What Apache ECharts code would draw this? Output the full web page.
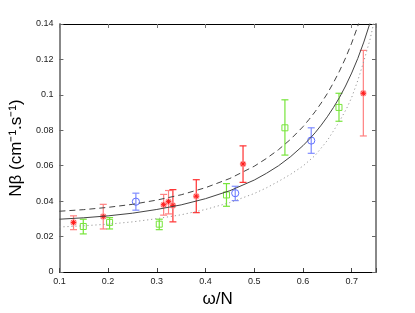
<!DOCTYPE html>
<html><head><meta charset="utf-8">
<script src="https://cdn.jsdelivr.net/npm/echarts@6/dist/echarts.min.js"></script>
<style>html,body{margin:0;padding:0;background:#fff}#c{width:415px;height:313px}</style>
</head><body><div id="c"></div>
<script>
// Model curves
const solidX = [0.10,0.15,0.20,0.25,0.30,0.35,0.40,0.45,0.50,0.525,0.55,0.575,0.60,0.6125,0.625,0.6375,0.65,0.6625,0.675,0.6875,0.70,0.7125,0.725,0.7375,0.75];
const solidY = [0.0298,0.0306,0.0317,0.0332,0.0353,0.0379,0.0414,0.0459,0.0519,0.0557,0.0600,0.0652,0.0713,0.0748,0.0786,0.0829,0.0876,0.0928,0.0985,0.1050,0.1123,0.1205,0.1298,0.1404,0.1526];
const dashX = [0.10,0.15,0.20,0.25,0.30,0.35,0.40,0.45,0.50,0.525,0.55,0.575,0.60,0.6125,0.625,0.6375,0.65,0.6625,0.675,0.6875,0.70,0.7125,0.725];
const dashY = [0.0343,0.0352,0.0365,0.0382,0.0406,0.0436,0.0476,0.0528,0.0597,0.0641,0.0691,0.0750,0.0820,0.0861,0.0905,0.0954,0.1007,0.1068,0.1134,0.1208,0.1292,0.1387,0.1494];
const dotX = [0.10,0.15,0.20,0.25,0.30,0.35,0.40,0.45,0.50,0.525,0.55,0.575,0.60,0.625,0.65,0.675,0.69,0.70,0.7125,0.725,0.7375,0.75];
const dotY = [0.0254,0.0261,0.0270,0.0283,0.0301,0.0323,0.0353,0.0392,0.0443,0.0475,0.0512,0.0552,0.0598,0.0658,0.0742,0.0850,0.0925,0.0985,0.1080,0.1190,0.1310,0.1460];

// Red star points with pale error bars
const redPaleX  = [0.129, 0.190, 0.314, 0.324, 0.724];
const redPaleY  = [0.0280, 0.0313, 0.0380, 0.0397, 0.1009];
const redPaleLo = [0.0239, 0.0243, 0.0321, 0.0328, 0.0768];
const redPaleHi = [0.0317, 0.0382, 0.0438, 0.0460, 0.1251];
// Red star points with strong error bars
const redX  = [0.333, 0.381, 0.477];
const redY  = [0.0376, 0.0428, 0.0610];
const redLo = [0.0283, 0.0335, 0.0506];
const redHi = [0.0465, 0.0521, 0.0712];
// Green squares
const greenX  = [0.149, 0.203, 0.305, 0.443, 0.563, 0.674];
const greenY  = [0.0257, 0.0280, 0.0270, 0.0435, 0.0814, 0.0929];
const greenLo = [0.0215, 0.0243, 0.0239, 0.0371, 0.0660, 0.0851];
const greenHi = [0.0298, 0.0307, 0.0298, 0.0499, 0.0972, 0.1009];
// Blue circles
const blueX  = [0.257, 0.461, 0.617];
const blueY  = [0.0397, 0.0445, 0.0742];
const blueLo = [0.0349, 0.0403, 0.0670];
const blueHi = [0.0445, 0.0484, 0.0814];

const FONT = "'Liberation Sans', Arial, sans-serif";
const zip = (xs, ys) => xs.map((x, i) => [x, ys[i]]);
const zip4 = (xs, ys, lo, hi) => xs.map((x, i) => [x, ys[i], lo[i], hi[i]]);

function errRender(kind, barColor, markColor) {
  return function (params, api) {
    const x = api.value(0), y = api.value(1), lo = api.value(2), hi = api.value(3);
    const p = api.coord([x, y]), pl = api.coord([x, lo]), ph = api.coord([x, hi]);
    const cw = 3.5;
    const bs = { stroke: barColor, lineWidth: 1.2 };
    const ch = [
      { type: 'line', shape: { x1: p[0], y1: pl[1], x2: p[0], y2: ph[1] }, style: bs },
      { type: 'line', shape: { x1: p[0] - cw, y1: pl[1], x2: p[0] + cw, y2: pl[1] }, style: bs },
      { type: 'line', shape: { x1: p[0] - cw, y1: ph[1], x2: p[0] + cw, y2: ph[1] }, style: bs }
    ];
    if (kind === 'square') {
      ch.push({ type: 'rect', shape: { x: p[0] - 3, y: p[1] - 3, width: 6, height: 6 }, style: { fill: 'none', stroke: markColor, lineWidth: 1 } });
    } else if (kind === 'circle') {
      ch.push({ type: 'circle', shape: { cx: p[0], cy: p[1], r: 3.6 }, style: { fill: 'none', stroke: markColor, lineWidth: 1 } });
    } else {
      ch.push({ type: 'circle', shape: { cx: p[0], cy: p[1], r: 3.2 }, style: { fill: '#ffa0a0', stroke: null } });
      const r = 2.6, d = r * 0.7071;
      const ss = { stroke: markColor, lineWidth: 1 };
      ch.push({ type: 'line', shape: { x1: p[0] - r, y1: p[1], x2: p[0] + r, y2: p[1] }, style: ss });
      ch.push({ type: 'line', shape: { x1: p[0], y1: p[1] - r, x2: p[0], y2: p[1] + r }, style: ss });
      ch.push({ type: 'line', shape: { x1: p[0] - d, y1: p[1] - d, x2: p[0] + d, y2: p[1] + d }, style: ss });
      ch.push({ type: 'line', shape: { x1: p[0] - d, y1: p[1] + d, x2: p[0] + d, y2: p[1] - d }, style: ss });
    }
    return { type: 'group', children: ch };
  };
}

const fmt = v => (Math.abs(v - 0.75) < 1e-6) ? '' : String(+(+v).toFixed(2));
const chart = echarts.init(document.getElementById('c'), null, { renderer: 'canvas' });
chart.setOption({
  animation: false,
  backgroundColor: '#fff',
  grid: { left: 54, right: 39, top: 24, bottom: 36 },
  xAxis: [
    { type: 'value', min: 0.1, max: 0.75, interval: 0.1, position: 'bottom',
      name: 'ω/N', nameLocation: 'middle', nameGap: 19,
      nameTextStyle: { fontSize: 17, color: '#000', fontFamily: FONT },
      axisLine: { show: true, onZero: false, lineStyle: { color: '#000', width: 1 } },
      axisTick: { show: true, inside: true, length: 4, lineStyle: { color: '#444' } },
      axisLabel: { fontSize: 9, color: '#222', margin: 5, fontFamily: FONT, formatter: fmt },
      splitLine: { show: false } },
    { type: 'value', min: 0.1, max: 0.75, interval: 0.1, position: 'top',
      axisLine: { show: true, onZero: false, lineStyle: { color: '#000', width: 1 } },
      axisTick: { show: true, inside: true, length: 4, lineStyle: { color: '#777' } },
      axisLabel: { show: false }, splitLine: { show: false } }
  ],
  yAxis: [
    { type: 'value', min: 0, max: 0.14, interval: 0.02, position: 'left',
      name: 'Nβ (cm⁻¹.s⁻¹)', nameLocation: 'middle', nameGap: 26, nameRotate: 90,
      nameTextStyle: { fontSize: 17, color: '#000', fontFamily: FONT },
      axisLine: { show: true, onZero: false, lineStyle: { color: '#888', width: 2 } },
      axisTick: { show: true, inside: true, length: 4, lineStyle: { color: '#666' } },
      axisLabel: { fontSize: 9, color: '#222', margin: 6, fontFamily: FONT, formatter: v => String(+(+v).toFixed(2)) },
      splitLine: { show: false } },
    { type: 'value', min: 0, max: 0.14, interval: 0.02, position: 'right',
      axisLine: { show: true, onZero: false, lineStyle: { color: '#888', width: 2 } },
      axisTick: { show: true, inside: true, length: 4, lineStyle: { color: '#666' } },
      axisLabel: { show: false }, splitLine: { show: false } }
  ],
  series: [
    { type: 'line', data: zip(solidX, solidY), showSymbol: false, smooth: false, clip: true,
      lineStyle: { color: '#444', width: 1 } },
    { type: 'line', data: zip(dashX, dashY), showSymbol: false, smooth: false, clip: true,
      lineStyle: { color: '#444', width: 1, type: [6, 4] } },
    { type: 'line', data: zip(dotX, dotY), showSymbol: false, smooth: false, clip: true,
      lineStyle: { color: '#999', width: 1, type: [1.2, 2.8] } },
    { type: 'custom', data: zip4(greenX, greenY, greenLo, greenHi), encode: { x: 0, y: 1 },
      renderItem: errRender('square', '#77e53a', '#77e53a') },
    { type: 'custom', data: zip4(blueX, blueY, blueLo, blueHi), encode: { x: 0, y: 1 },
      renderItem: errRender('circle', '#7f8cff', '#5f6fff') },
    { type: 'custom', data: zip4(redPaleX, redPaleY, redPaleLo, redPaleHi), encode: { x: 0, y: 1 },
      renderItem: errRender('star', '#ff8080', '#ff1a1a') },
    { type: 'custom', data: zip4(redX, redY, redLo, redHi), encode: { x: 0, y: 1 },
      renderItem: errRender('star', '#ff3030', '#ff1a1a') }
  ]
});
</script></body></html>
